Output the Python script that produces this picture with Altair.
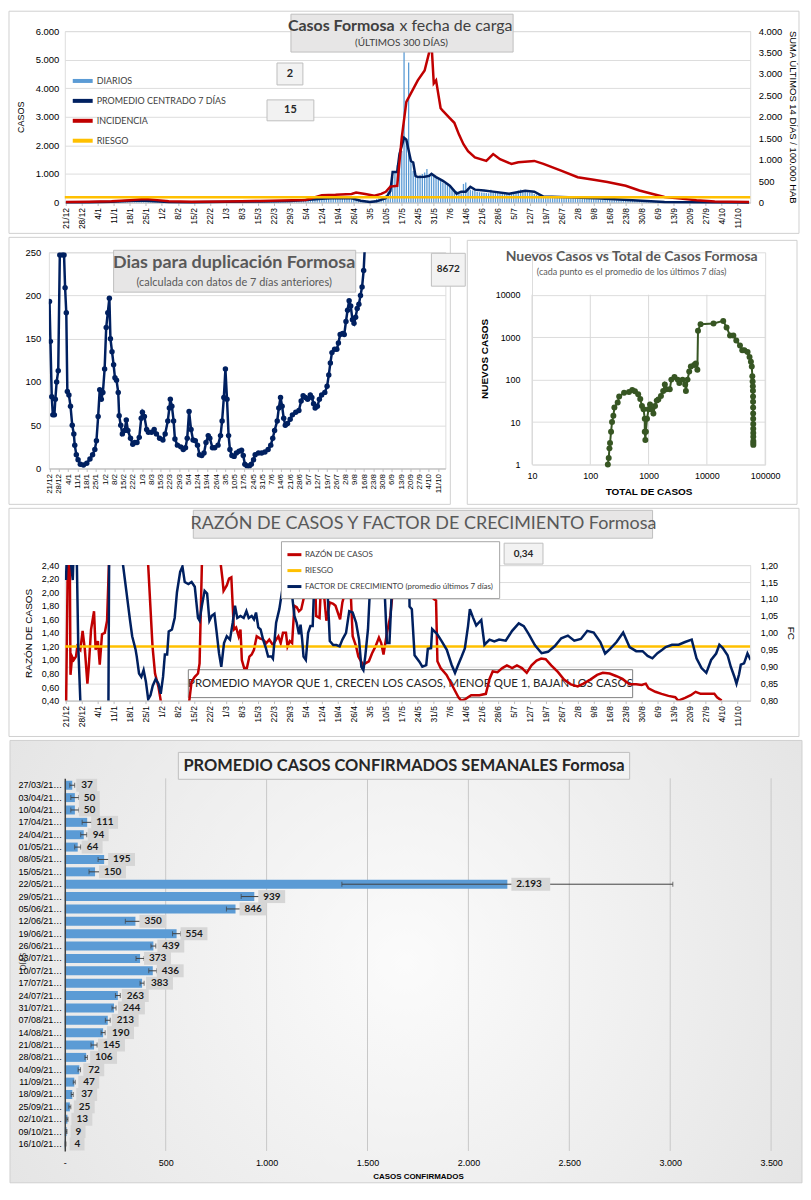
import altair as alt
import pandas as pd

FONT = "Lato"
NAVY = "#002060"
RED = "#c00000"
YEL = "#ffc000"
BLUE = "#5b9bd5"
GREEN = "#375623"
GRID = "#d9d9d9"
TXT = "#595959"
BOXF = "#e7e6e6"
BOXS = "#bfbfbf"

# ---------------- data: panel 1 (casos por fecha de carga, dia 0 = 21/12/2020)
diarios = [
    3, 5, 2, 4, 6, 3, 5, 4, 6, 8, 5, 7, 10, 9, 12, 15, 20, 18, 25, 30, 28,
    35, 40, 45, 50, 48, 55, 60, 65, 70, 60, 75, 68, 72, 60, 55, 50, 45, 40, 35, 30, 25,
    22, 20, 18, 15, 14, 12, 10, 10, 12, 11, 9, 13, 15, 14, 16, 18, 20, 22, 25, 24, 26,
    28, 30, 25, 27, 32, 30, 28, 30, 33, 35, 30, 28, 32, 34, 36, 30, 28, 35, 38, 40, 35,
    32, 30, 38, 40, 42, 45, 40, 38, 42, 45, 48, 50, 46, 52, 55, 60, 58, 62, 70, 75, 80,
    85, 90, 95, 100, 110, 120, 115, 130, 140, 150, 160, 170, 165, 180,
    175, 190, 200, 185, 170, 160, 150, 140, 120, 100, 90, 80, 70, 60,
    50, 60, 80, 120, 150, 180, 200, 250, 400, 600, 900, 1100, 1300, 1500,
    1800, 5300, 2200, 4900, 1500, 1100, 900, 850, 950, 1000, 1050, 1170, 1000, 950,
    900, 850, 800, 750, 700, 650, 600, 550, 500, 450, 400, 350, 320, 650,
    700, 500, 450, 420, 400, 380, 360, 350, 340, 330, 320, 450, 400, 380,
    360, 340, 330, 320, 310, 300, 310, 350, 380, 420, 450, 400, 380, 360,
    350, 330, 300, 280, 260, 240, 220, 210, 200, 195, 190, 185, 180, 175,
    170, 165, 160, 155, 150, 150, 145, 140, 135, 130, 125, 120, 118, 115,
    110, 105, 100, 100, 95, 90, 88, 85, 82, 80, 78, 75, 72, 70,
    68, 65, 62, 60, 58, 55, 52, 50, 48, 45, 42, 40, 38, 36,
    34, 32, 30, 28, 26, 25, 24, 22, 21, 20, 19, 18, 17, 16,
    15, 14, 13, 12, 12, 11, 10, 10, 9, 9, 8, 8, 7, 7,
    6, 6, 5, 5, 5, 4, 4, 4, 3, 3, 3, 2, 2,
]
prom_dias = [0, 10, 20, 29, 33, 37, 45, 55, 70, 85, 98, 105, 112, 118, 125, 129, 133, 136, 140, 142,
             143, 145, 146, 148, 149, 151, 152, 153, 154, 157, 159, 160, 162, 165, 168, 171, 173, 175, 177, 179,
             183, 187, 194, 201, 205, 209, 220, 234, 248, 262, 280, 299]
prom_vals = [5, 8, 25, 60, 70, 55, 20, 12, 25, 35, 50, 90, 130, 160, 150, 60, 15, 40, 150, 400,
             1070, 1070, 1700, 2270, 2200, 1450, 1400, 930, 890, 900, 930, 1000, 890, 760, 590, 310, 380, 380, 550, 450,
             420, 380, 310, 410, 380, 210, 180, 140, 80, 20, 10, 3]
inc_dias = [0, 10, 20, 28, 33, 36, 40, 45, 55, 70, 85, 99, 105, 112, 118, 125, 127, 131, 135, 138,
            140, 142, 145, 147, 149, 154, 157, 160, 161, 162, 164, 165, 168, 170, 172, 174, 176, 179, 184, 187,
            190, 195, 198, 205, 209, 217, 224, 231, 237, 245, 251, 256, 262, 269, 276, 284, 291, 299]
inc_vals = [10, 15, 30, 55, 75, 75, 55, 30, 20, 25, 35, 50, 60, 170, 180, 200, 230, 200, 160, 200,
            250, 370, 390, 1520, 2350, 2850, 3080, 3720, 2780, 2850, 2200, 2140, 1970, 1860, 1590, 1360, 1200, 1050, 970, 1130,
            1010, 900, 940, 970, 900, 740, 590, 530, 480, 390, 280, 210, 130, 90, 50, 25, 15, 10]
riesgo_inc = 120
series1 = ["DIARIOS", "PROMEDIO CENTRADO 7 DÍAS", "INCIDENCIA", "RIESGO"]

# ---------------- data: panel 2 left (dias para duplicacion)
dup_dias = [0, 0.7, 1.7, 2.5, 3.7, 4.4, 5.4, 6.6, 7.8, 9.8,
            11, 11.8, 12.7, 13.5, 14.7, 15.9, 17.2, 18.4, 19.1, 20.3,
            21.6, 23.3, 25.7, 28.2, 30.6, 32.6, 34.3, 35.5, 36.8, 38,
            39.2, 40.4, 41.7, 42.9, 44.1, 45.3, 46.1, 47.3, 48.5, 49.5,
            50.7, 52, 52.7, 53.9, 55.1, 56.9, 58.1, 59.3, 61.3, 63,
            64.5, 66.2, 67.9, 69.4, 70.3, 71.8, 73.5, 74.8, 77.2, 79.2,
            80.9, 83.3, 85.8, 87.5, 89.5, 90.7, 91.4, 92.6, 93.9, 94.9,
            96.8, 99.3, 101.2, 102.9, 104.2, 105.6, 107.1, 108.6, 110.3, 112,
            113.5, 115.2, 116.9, 118.4, 120.1, 121.3, 123.3, 125, 127.5, 129.4,
            130.6, 131.9, 133.1, 134.3, 135.5, 136.5, 138, 139.7, 141.4, 143.4,
            145.3, 146.6, 147.8, 149.5, 151.2, 152.7, 154.4, 155.6, 158.1, 160.5,
            163, 165.4, 167.4, 168.9, 170.3, 172.3, 173.5, 174.8, 176, 177.2,
            178.4, 180.1, 182.1, 183.8, 186.3, 188.7, 190.4, 191.9, 193.6, 195.3,
            197.3, 198.5, 199.8, 201, 202.7, 204.2, 205.9, 208.3, 210, 211.3,
            212.5, 213.7, 215.7, 217.4, 218.6, 219.9, 221.8, 223, 224.3, 225.5,
            226.7, 227.9, 229.2, 230.4, 231.6, 232.8, 234.1, 235.3, 236.5, 237.7,
            239, 241, 245, 255, 270, 299]
dup_vals = [193, 147, 83, 62, 62, 80, 100, 113, 247, 247,
            247, 209, 180, 89, 85, 72, 50, 40, 27, 16,
            10, 5, 4, 6, 11, 16, 22, 32, 60, 91,
            80, 88, 115, 163, 180, 197, 150, 135, 120, 105,
            102, 88, 61, 50, 40, 44, 56, 44, 35, 28,
            30, 30, 36, 58, 65, 60, 45, 42, 42, 45,
            40, 35, 33, 40, 55, 70, 80, 72, 55, 34,
            27, 25, 22, 24, 35, 66, 45, 33, 32, 27,
            16, 15, 18, 30, 38, 35, 24, 24, 27, 38,
            55, 82, 115, 80, 38, 22, 15, 14, 18, 20,
            21, 15, 5, 3, 3, 5, 10, 16, 18, 18,
            19, 22, 27, 35, 44, 55, 70, 82, 72, 58,
            50, 52, 57, 62, 65, 67, 78, 84, 82, 80,
            85, 82, 75, 70, 72, 80, 85, 88, 95, 108,
            122, 134, 138, 138, 145, 155, 156, 155, 170, 183,
            194, 188, 172, 168, 175, 185, 190, 200, 210, 229,
            270, 350, 700, 2000, 5000, 8672]

# ---------------- data: panel 2 right (nuevos vs total, log-log)
total_casos = [200, 207, 213, 218, 227, 236, 249, 259, 295, 313, 380, 461, 525, 584, 663, 720, 770, 820, 860, 860,
               880, 900, 940, 1000, 1060, 1130, 1210, 1290, 1380, 1470, 1630, 1780, 1900, 2010, 2310, 2460, 2780, 3160, 3370, 3830,
               4250, 4370, 4660, 4980, 5310, 6040, 6450, 6870, 7050, 7800, 13000, 19100, 21800, 25000, 28500, 32000, 37000, 40500, 44000, 50000,
               54000, 57000, 59000, 60300, 61000, 61500, 61800, 62000, 62100, 62200, 62300, 62400, 62500, 62500, 62600, 62600, 62700, 62700, 62700]
nuevos_casos = [1, 1.42, 2.4, 3.2, 5.9, 10, 14, 22, 29, 40, 49, 51, 57, 53, 45, 35, 24, 20, 12, 5.9,
                3.8, 5.9, 12, 20, 26, 20, 16, 24, 32, 34, 41, 54, 77, 59, 59, 100, 115, 100, 83, 100,
                77, 54, 100, 155, 203, 220, 240, 170, 1420, 2030, 2100, 2420, 1700, 1090, 1090, 840, 640, 490, 490, 450,
                343, 265, 203, 120, 90, 70, 55, 40, 30, 22, 16, 12, 9, 7, 5.5, 4.5, 3.6, 3.2, 2.9]
ticks_log_x = [10, 100, 1000, 10000, 100000]
ticks_log_y = [1, 10, 100, 1000, 10000]

# ---------------- data: panel 3 (razon de casos / factor de crecimiento)
razon_puntos = [
    (0, 0.1), (1, 3.0), (1.6, 3.0), (2, 0.78), (2.7, 1.05), (3.4, 1.00), (4.4, 1.05), (5, 1.20), (6.3, 1.15), (7.3, 1.43),
    (8.3, 1.15), (9.4, 0.65), (10, 0.90), (11, 1.45), (12.3, 1.72), (13, 1.15), (14, 1.28), (14.8, 0.93), (15.8, 1.38), (17, 1.40),
    (18, 1.58), (19, 2.60), (20, 3.50), (35, 3.50), (36, 2.40), (37.9, 1.20), (39, 0.80), (40.5, 0.60), (41.5, 0.40), (42.5, 0.20),
    (53, 0.20), (54, 0.40), (55, 0.68), (56.4, 0.75), (57.8, 0.80), (58.5, 0.95), (59.5, 2.40), (60.5, 3.50), (67, 3.50), (67.8, 2.40),
    (68.5, 2.20), (69, 2.02), (70.4, 2.10), (71.4, 2.20), (72.4, 2.22), (73.5, 1.45), (74.5, 1.48), (75.6, 1.35), (76.4, 1.45), (77, 1.00),
    (78, 0.88), (79.2, 0.88), (80.3, 1.05), (81.3, 1.08), (82.3, 1.15), (83.5, 1.35), (84.9, 1.32), (86.3, 1.30), (87.7, 1.25), (89, 1.30),
    (90.6, 1.22), (92, 1.30), (93, 1.35), (94, 1.25), (95, 1.40), (96.3, 1.40), (97, 1.20), (98, 1.28), (99, 1.25), (100, 1.80),
    (101, 1.78), (102, 1.72), (103, 1.75), (104, 1.90), (105, 2.00), (106, 2.40), (107, 3.00), (108.5, 3.00), (109.5, 1.65), (111, 1.62),
    (112, 2.40), (113, 1.95), (114, 1.58), (115.5, 1.85), (117, 1.83), (118, 1.80), (120, 1.60), (121, 1.85), (122.6, 2.05), (124, 2.50),
    (125.5, 1.35), (127, 1.20), (128, 1.05), (130, 0.93), (131, 0.95), (132.6, 0.98), (134, 1.10), (135.5, 1.20), (137, 1.33), (138, 1.25),
    (139, 1.08), (140.5, 1.40), (142, 1.65), (143, 2.00), (144.7, 2.40), (145.5, 3.50), (160.5, 3.50), (161, 1.90), (162, 1.88), (162.6, 0.98),
    (164, 0.88), (166.6, 0.78), (169.6, 0.59), (171.8, 0.45), (173, 0.40), (174.8, 0.42), (176, 0.45), (177.4, 0.48), (181, 0.48), (183.8, 0.50),
    (185.4, 0.72), (186.8, 0.83), (188.9, 0.82), (191, 0.88), (193, 0.92), (195.3, 0.88), (197.4, 0.92), (199.6, 0.88), (201.7, 0.81), (203.8, 0.92),
    (206, 0.99), (208, 1.02), (210, 1.01), (212.4, 0.92), (215.4, 0.82), (218, 0.71), (221, 0.64), (224, 0.61), (226.5, 0.65), (229.5, 0.71),
    (232.5, 0.78), (235, 0.81), (238, 0.80), (241, 0.76), (243.6, 0.72), (246.6, 0.64), (249.6, 0.64), (252, 0.63), (253.8, 0.65), (255, 0.58),
    (258, 0.53), (260.7, 0.50), (263.7, 0.47), (266.7, 0.45), (268, 0.40), (271, 0.44), (273.5, 0.48), (275.6, 0.53), (277.8, 0.50), (280.6, 0.50),
    (283.8, 0.50), (285, 0.45), (287, 0.40),
]
fc_puntos = [
    (0, 1.156), (1, 1.32), (2.3, 1.20), (3, 1.156), (3.7, 1.32), (4.8, 1.20), (5.4, 0.96), (6.3, 0.80), (7, 0.65), (18.5, 0.65),
    (19, 1.35), (24.5, 1.35), (25, 1.20), (26.5, 1.12), (28, 1.04), (29, 0.99), (30.5, 0.95), (31, 0.93), (32, 0.88), (33, 0.87),
    (34, 0.89), (35, 0.856), (36, 0.804), (37, 0.816), (38, 0.844), (39.3, 0.864), (40.5, 0.85), (41.5, 0.82), (42.5, 0.87), (43.3, 0.936),
    (44.3, 0.936), (45, 1.004), (46.4, 1.01), (47.6, 1.044), (48.6, 1.12), (50, 1.18), (51, 1.196), (52, 1.15), (53.6, 1.144), (55, 1.15),
    (56.4, 1.136), (57.8, 1.044), (58.5, 1.036), (59.5, 1.08), (60.7, 1.124), (61.8, 1.116), (62.8, 1.036), (63.8, 1.05), (65, 1.056), (66, 1.00),
    (67, 0.94), (68, 0.90), (69.2, 0.97), (70.4, 0.99), (71.8, 0.98), (73, 1.03), (74, 1.08), (75, 1.044), (76.4, 1.05), (77.8, 1.044),
    (79, 1.064), (80, 1.044), (81.3, 1.05), (82.3, 1.04), (83.2, 1.06), (84.2, 1.016), (85.2, 1.01), (86.3, 0.98), (87.5, 0.956), (88.5, 0.93),
    (90, 0.93), (90.6, 0.924), (92, 1.03), (93.4, 1.07), (95, 1.14), (96, 1.20), (96.8, 1.26), (97.2, 1.26), (97.7, 1.20), (99, 1.11),
    (100, 1.05), (101, 1.03), (102, 0.996), (102.7, 1.024), (103.4, 0.98), (104, 0.93), (105, 0.92), (106, 1.00), (107, 1.02), (108, 1.02),
    (109, 1.20), (110, 1.35), (113.5, 1.35), (114, 1.20), (115.5, 0.976), (117, 0.964), (118.4, 0.964), (119.8, 0.96), (121, 0.98), (122.6, 1.00),
    (124, 1.064), (125.5, 1.06), (127, 1.03), (128.3, 0.98), (129.3, 0.90), (130.2, 0.89), (131, 0.93), (132.2, 1.01), (133.3, 1.16), (134, 1.20),
    (135, 1.30), (138.5, 1.30), (139, 1.20), (140.5, 0.97), (141.6, 0.97), (142.6, 1.12), (143.3, 1.20), (144, 1.35), (150, 1.35), (150.4, 1.078),
    (151.4, 1.07), (152.6, 0.934), (154.7, 0.915), (156, 0.90), (157.7, 0.905), (158.4, 0.953), (159.8, 0.955), (160.3, 1.011), (162.4, 0.997), (164.5, 0.975),
    (166.7, 0.95), (168.8, 0.906), (170.3, 0.882), (171.7, 0.906), (173.2, 0.93), (174.6, 0.954), (176, 1.02), (176.8, 1.07), (178.2, 1.045), (179.6, 1.022),
    (181.8, 1.038), (183.2, 0.965), (185.4, 0.98), (187.5, 0.975), (189.6, 0.98), (192.5, 0.977), (195.3, 1.006), (198.2, 1.028), (200.4, 1.02), (202.5, 0.997),
    (205.3, 0.963), (208.2, 0.94), (211, 0.944), (214, 0.961), (216.8, 0.984), (219.7, 0.992), (222.5, 0.977), (225.4, 0.982), (228.2, 1.006), (231, 1.001),
    (233.9, 0.973), (236, 0.939), (238.2, 0.953), (241, 0.973), (243.9, 1.001), (246.7, 0.958), (249.6, 0.946), (252.4, 0.946), (254.6, 0.932), (256.7, 0.925),
    (258.9, 0.94), (261, 0.95), (262.5, 0.958), (265.3, 0.965), (268.2, 0.965), (271, 0.973), (273.9, 0.98), (276, 0.925), (278.2, 0.896), (280.3, 0.882),
    (282.4, 0.92), (284.6, 0.939), (286, 0.965), (287.5, 0.955), (289.6, 0.934), (291, 0.90), (292.5, 0.872), (293.5, 0.85), (294.6, 0.877), (295.4, 0.906),
    (296.8, 0.91), (298.3, 0.939), (299.7, 0.92),
]
riesgo_razon = 1.20
series3 = ["RAZÓN DE CASOS", "RIESGO", "FACTOR DE CRECIMIENTO (promedio últimos 7 días)"]

# ---------------- data: panel 4 (promedio semanal)
semanas = ["27/03/21…", "03/04/21…", "10/04/21…", "17/04/21…", "24/04/21…", "01/05/21…", "08/05/21…",
           "15/05/21…", "22/05/21…", "29/05/21…", "05/06/21…", "12/06/21…", "19/06/21…", "26/06/21…",
           "03/07/21…", "10/07/21…", "17/07/21…", "24/07/21…", "31/07/21…", "07/08/21…", "14/08/21…",
           "21/08/21…", "28/08/21…", "04/09/21…", "11/09/21…", "18/09/21…", "25/09/21…", "02/10/21…",
           "09/10/21…", "16/10/21…"]
sem_vals = [37, 50, 50, 111, 94, 64, 195, 150, 2193, 939, 846, 350, 554, 439, 373, 436, 383, 263, 244, 213,
            190, 145, 106, 72, 47, 37, 25, 13, 9, 4]
sem_err = [12, 20, 20, 25, 15, 15, 30, 30, 820, 65, 45, 50, 20, 12, 20, 20, 10, 12, 10, 12,
           10, 15, 6, 6, 5, 5, 5, 3, 2, 2]

assert len(diarios) == 300
assert len(prom_dias) == len(prom_vals) and len(inc_dias) == len(inc_vals)
assert len(dup_dias) == len(dup_vals) and len(total_casos) == len(nuevos_casos)
assert len(semanas) == len(sem_vals) == len(sem_err)

# ---------------- helpers
DATE_EXPR = "timeFormat(datetime(2020, 11, 21 + datum.value), '%-d/%-m')"
TICKS_SEM = list(range(0, 295, 7))
THOU = "replace(format(datum.value, ','), ',', '.')"
DEC2 = "replace(format(datum.value, '.2f'), '.', ',')"
one = pd.DataFrame({"k": [0]})


def box(x1, x2, y1, y2, fill=BOXF, stroke=BOXS, sw=1, op=1):
    return alt.Chart(one).mark_rect(fill=fill, stroke=stroke, strokeWidth=sw, fillOpacity=op).encode(
        x=alt.value(x1), x2=alt.value(x2), y=alt.value(y1), y2=alt.value(y2))


def border(x1, x2, y1, y2):
    return alt.Chart(one).mark_rect(fill="white", fillOpacity=0, stroke="#d0d0d0", strokeWidth=1).encode(
        x=alt.value(x1), x2=alt.value(x2), y=alt.value(y1), y2=alt.value(y2))


def txt(s, x, y, size=10, weight="normal", color=TXT, align="center", angle=None):
    kw = dict(text=s, fontSize=size, fontWeight=weight, color=color, align=align, baseline="middle", font=FONT)
    if angle is not None:
        kw["angle"] = angle
    return alt.Chart(one).mark_text(**kw).encode(x=alt.value(x), y=alt.value(y))


def xdate(size=8.5):
    return alt.X("dia:Q", scale=alt.Scale(domain=[-0.5, 299.5], nice=False, zero=False),
                 axis=alt.Axis(values=TICKS_SEM, labelExpr=DATE_EXPR, labelAngle=270, title=None, grid=False,
                               labelFontSize=size, tickSize=3, labelPadding=2, labelFlush=False,
                               domainColor="#bfbfbf", tickColor="#bfbfbf"))


def shifted(ch):
    # empty spacer so that this panel's plot starts 16px right of the column origin
    spacer = alt.Chart(one).mark_rect(opacity=0).encode(
        x=alt.value(0), x2=alt.value(1), y=alt.value(0), y2=alt.value(1)).properties(width=1, height=1)
    return alt.concat(spacer, ch, columns=2, spacing=15, bounds="flush")


# ---------------- panel 1
W1, H1 = 688, 172
df_d = pd.DataFrame({"dia": list(range(300)), "v": diarios, "serie": "DIARIOS"})
df_p = pd.DataFrame({"dia": prom_dias, "v": prom_vals, "serie": series1[1]})
df_i = pd.DataFrame({"dia": inc_dias, "v": inc_vals, "serie": "INCIDENCIA"})
df_r = pd.DataFrame({"dia": [-0.5, 299.5], "v": [riesgo_inc, riesgo_inc], "serie": "RIESGO"})

col1 = alt.Color("serie:N", scale=alt.Scale(domain=series1, range=[BLUE, NAVY, RED, YEL]),
                 legend=alt.Legend(title=None, orient="none", legendX=22, legendY=38, symbolType="stroke",
                                   symbolStrokeWidth=4, symbolSize=400, labelFontSize=9, labelColor="#404040",
                                   labelFont=FONT, rowPadding=-2, labelOffset=2))
yL1 = alt.Y("v:Q", scale=alt.Scale(domain=[0, 6000], nice=False),
            axis=alt.Axis(orient="left", values=[0, 1000, 2000, 3000, 4000, 5000, 6000], labelExpr=THOU,
                          title="CASOS", grid=True, domain=False, ticks=False, titleFontWeight="normal",
                          titleFontSize=9, labelFontSize=9.5, titlePadding=10, labelPadding=6))
yR1 = alt.Y("v:Q", scale=alt.Scale(domain=[0, 4000], nice=False),
            axis=alt.Axis(orient="right", values=[0, 500, 1000, 1500, 2000, 2500, 3000, 3500, 4000], labelExpr=THOU,
                          title="SUMA  ÚLTIMOS 14 DÍAS / 100.000 HAB", grid=False, domain=False, ticks=False,
                          titleFontWeight="normal", titleFontSize=9.5, titleAngle=90, labelFontSize=9.5,
                          titlePadding=6, labelPadding=8))

bars1 = alt.Chart(df_d).mark_rule(strokeWidth=1.3).encode(x=xdate(), y=yL1, y2=alt.datum(0), color=col1)
prom1 = alt.Chart(df_p).mark_line(strokeWidth=2.5).encode(x=xdate(), y=yL1, color=col1)
inc1 = alt.Chart(df_i).mark_line(strokeWidth=2.5).encode(x=xdate(), y=yR1, color=col1)
rsk1 = alt.Chart(df_r).mark_line(strokeWidth=2.5).encode(x=xdate(), y=yR1, color=col1)

p1 = alt.layer(
    border(-56, 737, -20, 203),
    alt.layer(bars1, prom1),
    alt.layer(inc1, rsk1),
    box(227, 450, -17, 21),
    txt("Casos  Formosa", 331, -5, 16, "bold", "#404040", "right"),
    txt("x fecha de carga", 336, -5, 16, "normal", "#404040", "left"),
    txt("(ÚLTIMOS 300 DÍAS)", 338, 12, 10, "normal", "#404040"),
    box(213, 239, 32, 54, fill="#f2f2f2"),
    txt("2", 226, 43, 11, "bold", "#262626"),
    box(203, 250, 69, 90, fill="#f2f2f2"),
    txt("15", 226.5, 79.5, 11, "bold", "#262626"),
).resolve_scale(y="independent").properties(width=W1, height=H1)

# ---------------- panel 2 left
W2L, H2L = 398, 217
df_dup = pd.DataFrame({"dia": dup_dias, "v": dup_vals})
y2l = alt.Y("v:Q", scale=alt.Scale(domain=[0, 250], nice=False),
            axis=alt.Axis(values=[0, 50, 100, 150, 200, 250], title=None, grid=True, domain=False, ticks=False,
                          labelFontSize=9.5, labelPadding=8))
p2l = alt.layer(
    border(-40, 403, -15, 253),
    alt.Chart(df_dup).mark_line(color=NAVY, strokeWidth=2.5, clip=True).encode(x=xdate(8), y=y2l),
    alt.Chart(df_dup).mark_circle(color=NAVY, size=30, opacity=1, clip=True).encode(x=xdate(8), y=y2l),
    box(65, 308, -2, 40),
    txt("Dias para duplicación Formosa", 186, 11, 18, "bold", "#595959"),
    txt("(calculada con datos de 7 días anteriores)", 186, 31, 11, "normal", "#595959"),
    box(384, 418, 1, 34, fill="#f2f2f2"),
    txt("8672", 401, 17, 10, "bold", "#262626"),
).properties(width=W2L, height=H2L)

# ---------------- panel 2 right (plot top aligned with panel 2 left; one empty decade on top)
W2R, H2R = 234, 213
df_nc = pd.DataFrame({"i": list(range(len(total_casos))), "tot": total_casos, "nue": nuevos_casos})
df_gx = pd.DataFrame({"tot": ticks_log_x})
xlog = alt.X("tot:Q", scale=alt.Scale(type="log", domain=[10, 100000], nice=False),
             axis=alt.Axis(values=ticks_log_x, format="d", title="TOTAL DE CASOS", labelFlush=False,
                           titleFontWeight="bold", titleFontSize=10, grid=False, domain=False, ticks=False,
                           labelFontSize=9, labelPadding=7, titlePadding=6))
ylog = alt.Y("nue:Q", scale=alt.Scale(type="log", domain=[1, 100000], nice=False),
             axis=alt.Axis(values=ticks_log_y, format="d", title="NUEVOS CASOS",
                           titleFontWeight="bold", titleFontSize=10, grid=True, domain=False, ticks=False,
                           labelFontSize=9, labelPadding=12, titlePadding=6))
p2r = alt.layer(
    border(-65, 266, -12, 253),
    alt.Chart(df_gx).mark_rule(color=GRID, strokeWidth=1).encode(
        x=xlog, y=alt.datum(ticks_log_y[0]), y2=alt.datum(ticks_log_y[-1])),
    alt.Chart(df_nc).mark_line(color=GREEN, strokeWidth=2).encode(x=xlog, y=ylog, order="i:Q"),
    alt.Chart(df_nc).mark_circle(color=GREEN, size=36, opacity=1).encode(x=xlog, y=ylog),
    txt("Nuevos Casos vs Total de Casos Formosa", 100, 5, 14, "bold", "#595959"),
    txt("(cada punto es el promedio de los últimos 7 días)", 100, 20, 9, "normal", "#595959"),
).properties(width=W2R, height=H2R)

# ---------------- panel 3
W3, H3 = 688, 136
df_rz = pd.DataFrame({"dia": [p[0] for p in razon_puntos], "v": [p[1] for p in razon_puntos], "serie": series3[0]})
df_rr = pd.DataFrame({"dia": [-0.5, 299.5], "v": [riesgo_razon, riesgo_razon], "serie": series3[1]})
df_fc = pd.DataFrame({"dia": [p[0] for p in fc_puntos], "v": [p[1] for p in fc_puntos], "serie": series3[2]})
col3 = alt.Color("serie:N", scale=alt.Scale(domain=series3, range=[RED, YEL, NAVY]),
                 legend=alt.Legend(title=None, orient="none", legendX=233, legendY=-24, fillColor="white",
                                   strokeColor="#a6a6a6", padding=5, symbolType="stroke", symbolStrokeWidth=3,
                                   symbolSize=196, labelFontSize=8, labelColor="#404040", labelFont=FONT,
                                   rowPadding=1, labelLimit=300, labelOffset=2))
yL3 = alt.Y("v:Q", scale=alt.Scale(domain=[0.4, 2.4], nice=False, zero=False),
            axis=alt.Axis(orient="left", values=[0.4, 0.6, 0.8, 1.0, 1.2, 1.4, 1.6, 1.8, 2.0, 2.2, 2.4],
                          labelExpr=DEC2, title="RAZÓN DE CASOS", grid=False, domain=False, ticks=False,
                          titleFontWeight="normal", titleFontSize=10, labelFontSize=9, labelPadding=6, titlePadding=8))
yR3 = alt.Y("v:Q", scale=alt.Scale(domain=[0.8, 1.2], nice=False, zero=False),
            axis=alt.Axis(orient="right", values=[0.8, 0.85, 0.9, 0.95, 1.0, 1.05, 1.1, 1.15, 1.2],
                          labelExpr=DEC2, title="FC", grid=True, domain=False, ticks=False, titleAngle=90,
                          titleFontWeight="normal", titleFontSize=10, labelFontSize=9, labelPadding=10, titlePadding=8))
p3 = alt.layer(
    border(-56, 737, -57, 172),
    box(124, 570, 105, 133, fill="white", stroke="#7f7f7f"),
    txt("PROMEDIO MAYOR QUE 1, CRECEN LOS CASOS, MENOR QUE 1, BAJAN LOS CASOS", 347, 119, 11.5, "normal", "#262626"),
    alt.layer(
        alt.Chart(df_rz).mark_line(strokeWidth=2.5, clip=True).encode(x=xdate(), y=yL3, color=col3),
        alt.Chart(df_rr).mark_line(strokeWidth=2.5, clip=True).encode(x=xdate(), y=yL3, color=col3),
    ),
    alt.Chart(df_fc).mark_line(strokeWidth=2.5, clip=True).encode(x=xdate(), y=yR3, color=col3),
    box(129, 590, -55, -27),
    txt("RAZÓN DE CASOS Y FACTOR DE CRECIMIENTO Formosa", 360, -41, 18, "normal", "#595959"),
    box(441, 480, -22, -1, fill="#f2f2f2"),
    txt("0,34", 460.5, -11.5, 10, "bold", "#262626"),
).resolve_scale(y="independent").properties(width=W3, height=H3)

# ---------------- panel 4
W4, H4 = 709, 374
labs = [f"{v:,}".replace(",", ".") for v in sem_vals]
df4 = pd.DataFrame({"sem": semanas, "v": sem_vals,
                    "lo": [v - e for v, e in zip(sem_vals, sem_err)],
                    "hi": [v + e for v, e in zip(sem_vals, sem_err)],
                    "lab": labs, "n": [len(s) for s in labs]})
df_g = pd.DataFrame({"g": [500, 1000, 1500, 2000, 2500, 3000, 3500]})


def x4(field):
    return alt.X(f"{field}:Q", scale=alt.Scale(domain=[0, 3500], nice=False),
                 axis=alt.Axis(values=[0, 500, 1000, 1500, 2000, 2500, 3000, 3500],
                               labelExpr="datum.value == 0 ? '-' : " + THOU, grid=False, domain=False,
                               ticks=False, title="CASOS CONFIRMADOS", titleFontSize=8, titleFontWeight="bold",
                               labelFontSize=9, labelPadding=8, titlePadding=5, zindex=1, labelFlush=False))


ysem = alt.Y("sem:N", sort=None, scale=alt.Scale(paddingInner=0, paddingOuter=0.06),
             axis=alt.Axis(title=None, ticks=False, domain=True, domainColor="#404040", domainWidth=1.5,
                           labelFontSize=9, labelPadding=3, zindex=1))

bg4 = alt.Chart(one).mark_rect(
    fill=alt.RadialGradient(gradient="radial", x1=0.5, y1=0.5, x2=0.5, y2=0.5, r1=0, r2=0.75,
                            stops=[alt.GradientStop(color="#fbfbfb", offset=0),
                                   alt.GradientStop(color="#dedede", offset=1)]),
    stroke="#d0d0d0").encode(x=alt.value(-55), x2=alt.value(740), y=alt.value(-38), y2=alt.value(406))

lab_bgs = []
for n in sorted(set(df4["n"])):
    lab_bgs.append(
        alt.Chart(df4).transform_filter(f"datum.n == {n}")
        .mark_bar(size=13, color="#d6d6d6", xOffset=4, x2Offset=4 + 6 * n + 9)
        .encode(x=x4("v"), x2="v:Q", y=ysem))

p4 = alt.layer(
    bg4,
    alt.Chart(df_g).mark_rule(color="#c8c8c8", strokeWidth=1).encode(x=x4("g")),
    alt.Chart(df4).mark_bar(size=9, color=BLUE).encode(x=x4("v"), y=ysem),
    alt.Chart(df4).mark_rule(color="#404040", strokeWidth=1).encode(x=x4("lo"), x2="hi:Q", y=ysem),
    alt.Chart(df4).mark_tick(color="#404040", thickness=1, size=5).encode(x=x4("lo"), y=ysem),
    alt.Chart(df4).mark_tick(color="#404040", thickness=1, size=5).encode(x=x4("hi"), y=ysem),
    *lab_bgs,
    alt.Chart(df4).mark_text(align="left", baseline="middle", dx=9, fontSize=10, fontWeight="bold",
                             color="#1a1a1a", font=FONT).encode(x=x4("v"), y=ysem, text="lab:N"),
    box(114, 567, -26, 1, fill="#f2f2f2"),
    txt("PROMEDIO CASOS CONFIRMADOS SEMANALES Formosa", 340.5, -12.5, 16.5, "bold", "#262626"),
    txt("DÍAS", -41, 184, 8, "normal", "#404040", angle=270),
).properties(width=W4, height=H4)

fila2 = alt.concat(p2l, p2r, columns=2, spacing=0)

chart = alt.concat(
    shifted(p1),
    fila2,
    shifted(p3),
    shifted(p4),
    columns=1,
    spacing=2,
).resolve_scale(color="independent").properties(
    padding={"left": 0, "top": 0, "right": 0, "bottom": 0}
).configure_view(strokeWidth=0).configure_axis(
    labelFont=FONT, titleFont=FONT, labelColor=TXT, titleColor=TXT, gridColor=GRID
).configure(background="white")

chart.save("out.html", embed_options={"renderer": "svg", "actions": False})
